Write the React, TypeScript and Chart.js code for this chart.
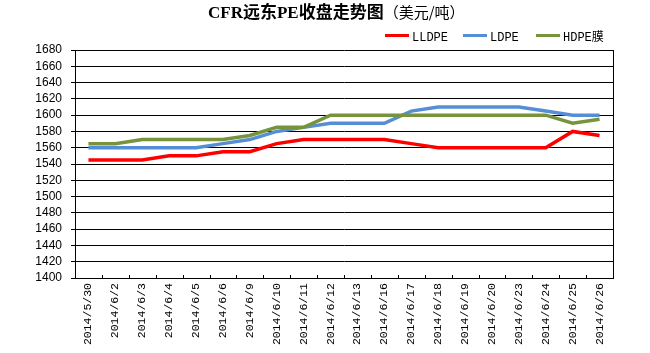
import React, { useEffect, useRef } from "react";
import { Chart, registerables } from "chart.js";

Chart.register(...registerables);

const categories = [
  "2014/5/30", "2014/6/2", "2014/6/3", "2014/6/4", "2014/6/5", "2014/6/6", "2014/6/9",
  "2014/6/10", "2014/6/11", "2014/6/12", "2014/6/13", "2014/6/16", "2014/6/17", "2014/6/18",
  "2014/6/19", "2014/6/20", "2014/6/23", "2014/6/24", "2014/6/25", "2014/6/26",
];
const lldpe = [1545, 1545, 1545, 1550, 1550, 1555, 1555, 1565, 1570, 1570, 1570, 1570, 1565, 1560, 1560, 1560, 1560, 1560, 1580, 1575];
const ldpe = [1560, 1560, 1560, 1560, 1560, 1565, 1570, 1580, 1585, 1590, 1590, 1590, 1605, 1610, 1610, 1610, 1610, 1605, 1600, 1600];
const hdpe = [1565, 1565, 1570, 1570, 1570, 1570, 1575, 1585, 1585, 1600, 1600, 1600, 1600, 1600, 1600, 1600, 1600, 1600, 1590, 1595];
const seriesNames = ["LLDPE", "LDPE", "HDPE膜"];
const seriesColors = ["#FF0000", "#558ED5", "#77933C"];
const yMin = 1400;
const yMax = 1680;
const yStep = 20;
const titleBold = "CFR远东PE收盘走势图";
const titleNormal = "（美元/吨）";

const decorPlugin = {
  id: "decor",
  afterDraw(chart: any) {
    const ctx = chart.ctx;
    const area = chart.chartArea;
    ctx.save();
    // right border
    ctx.strokeStyle = "#000";
    ctx.lineWidth = 1;
    ctx.beginPath();
    ctx.moveTo(Math.round(area.right) + 0.5, area.top);
    ctx.lineTo(Math.round(area.right) + 0.5, area.bottom);
    ctx.stroke();
    // x ticks (inward, between categories)
    const n = categories.length;
    const w = (area.right - area.left) / n;
    ctx.beginPath();
    for (let i = 1; i < n; i++) {
      const x = Math.round(area.left + i * w) + 0.5;
      ctx.moveTo(x, area.bottom - 3);
      ctx.lineTo(x, area.bottom);
    }
    ctx.stroke();
    // title
    ctx.fillStyle = "#000";
    ctx.textBaseline = "alphabetic";
    ctx.textAlign = "left";
    ctx.font = "bold 17px 'Liberation Serif', 'Noto Sans CJK SC', serif";
    let tx = 208;
    ctx.fillText(titleBold, tx, 18);
    tx += ctx.measureText(titleBold).width;
    ctx.font = "15px 'Noto Sans CJK SC', sans-serif";
    ctx.fillText(titleNormal, tx, 18);
    // legend
    const legendX = [385, 463, 536];
    ctx.font = "12px 'Liberation Mono', 'Noto Sans CJK SC', monospace";
    ctx.textBaseline = "middle";
    for (let i = 0; i < seriesNames.length; i++) {
      ctx.strokeStyle = seriesColors[i];
      ctx.lineWidth = 3;
      ctx.beginPath();
      ctx.moveTo(legendX[i], 35.5);
      ctx.lineTo(legendX[i] + 24, 35.5);
      ctx.stroke();
      ctx.fillStyle = "#000";
      ctx.fillText(seriesNames[i], legendX[i] + 27, 38);
    }
    ctx.restore();
  },
};

export default function App() {
  const ref = useRef<HTMLCanvasElement>(null);
  useEffect(() => {
    if (!ref.current) return;
    const mk = (label: string, data: number[], color: string) => ({
      label,
      data,
      borderColor: color,
      backgroundColor: color,
      borderWidth: 3.5,
      pointRadius: 0,
      tension: 0,
      fill: false,
    });
    const chart = new Chart(ref.current, {
      type: "line",
      data: {
        labels: categories,
        datasets: [
          mk(seriesNames[2], hdpe, seriesColors[2]),
          mk(seriesNames[1], ldpe, seriesColors[1]),
          mk(seriesNames[0], lldpe, seriesColors[0]),
        ],
      },
      options: {
        animation: false,
        responsive: false,
        maintainAspectRatio: false,
        layout: { padding: { top: 50, right: 37, left: 0, bottom: 0 } },
        plugins: {
          legend: { display: false },
          title: { display: false },
          tooltip: { enabled: false },
        },
        scales: {
          x: {
            offset: true,
            grid: { display: false, drawTicks: false },
            border: { display: true, color: "#000", width: 1 },
            ticks: {
              minRotation: 90,
              maxRotation: 90,
              autoSkip: false,
              padding: 5,
              color: "#000",
              font: { family: "'Liberation Mono', monospace", size: 11.5 },
            },
            afterFit(scale: any) {
              scale.height = 75;
            },
          },
          y: {
            min: yMin,
            max: yMax,
            grid: { color: "#000", lineWidth: 1, tickLength: 4, drawTicks: true },
            border: { display: true, color: "#000", width: 1 },
            ticks: {
              stepSize: yStep,
              autoSkip: false,
              padding: 9,
              color: "#000",
              font: { family: "'Liberation Sans', Arial, sans-serif", size: 12 },
              callback: (v: any) => String(v),
            },
            afterFit(scale: any) {
              scale.width = 75;
            },
          },
        },
      },
      plugins: [decorPlugin],
    });
    return () => chart.destroy();
  }, []);
  return (
    <div style={{ position: "absolute", left: 0, top: 0, width: 650, height: 353, background: "#fff" }}>
      <canvas ref={ref} width={650} height={353} style={{ width: 650, height: 353 }} />
    </div>
  );
}
